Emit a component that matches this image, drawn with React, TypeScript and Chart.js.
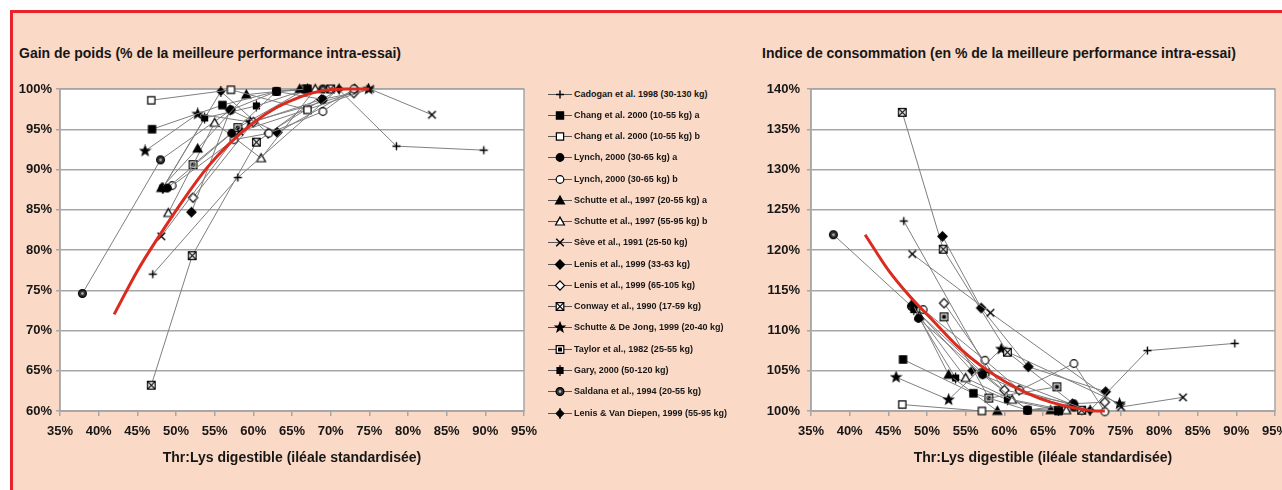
import React, { useEffect, useRef } from 'react';
import { Chart, registerables } from 'chart.js';

Chart.register(...registerables);

// ---------- DATA (Thr:Lys digestible, % ; responses in % of best intra-trial performance) ----------
const cadoganX = [47, 58, 71, 78.5, 89.8];
const cadoganGain = [77.0, 89.0, 100, 92.9, 92.4];
const cadoganIC = [123.6, 104.8, 100, 107.5, 108.4];

const changAX = [46.9, 56, 63, 67];
const changAGain = [95.0, 98.0, 99.7, 100];
const changAIC = [106.4, 102.2, 100.1, 100];

const changBX = [46.8, 57.1, 67];
const changBGain = [98.6, 99.9, 97.4];
const changBIC = [100.8, 100.0, 100.1];

const lynchAX = [48.9, 57.2, 63, 69];
const lynchAGain = [87.7, 94.5, 99.7, 98.7];
const lynchAIC = [111.5, 104.5, 100.1, 100.9];

const lynchBX = [49.5, 57.5, 62, 69, 73];
const lynchBGain = [88.0, 93.7, 94.5, 97.2, 100];
const lynchBIC = [112.6, 106.3, 102.6, 105.9, 99.9];

const schutteAX = [48.1, 52.8, 59.1, 66];
const schutteAGain = [87.7, 92.6, 99.3, 100];
const schutteAIC = [113.4, 104.5, 100.0, 100.1];

const schutteBX = [49, 55, 61, 68];
const schutteBGain = [84.6, 95.8, 91.4, 100];
const schutteBIC = [111.8, 104.1, 101.4, 100.1];

const seveX = [48.1, 58.2, 75.1, 83.1];
const seveGain = [81.7, 94.7, 100, 96.8];
const seveIC = [119.5, 112.2, 100.5, 101.7];

const lenisAX = [52, 57.0, 63.1, 73.1];
const lenisAGain = [84.7, 97.4, 94.6, 100];
const lenisAIC = [121.7, 112.8, 105.5, 102.4];

const lenisBX = [52.2, 60, 68.8, 73];
const lenisBGain = [86.5, 95.9, 98.7, 99.5];
const lenisBIC = [113.4, 102.6, 100.9, 101.1];

const conwayX = [46.8, 52.1, 60.4, 70];
const conwayGain = [63.2, 79.3, 93.4, 100];
const conwayIC = [137.1, 120.1, 107.3, 100.1];

const schutteDeJongX = [46, 52.8, 59.6, 74.9];
const schutteDeJongGain = [92.3, 96.9, 95.9, 100];
const schutteDeJongIC = [104.2, 101.4, 107.7, 100.9];

const taylorX = [52.2, 58, 66.8];
const taylorGain = [90.6, 95.2, 100];
const taylorIC = [111.7, 101.6, 103.0];

const garyX = [48.3, 53.7, 60.4, 67];
const garyGain = [87.7, 96.4, 97.9, 100];
const garyIC = [112.6, 104.1, 101.4, 100.1];

const saldanaX = [37.9, 48, 57.1, 63, 69];
const saldanaGain = [74.6, 91.2, 97.4, 99.7, 100];
const saldanaIC = [121.9, 113.0, 104.8, 100.1, 100.5];

const lenisVDX = [48.3, 55.8, 61.9, 71.1];
const lenisVDGain = [87.7, 99.7, 94.5, 100];
const lenisVDIC = [112.9, 105.0, 102.6, 100.1];

// Fitted response curves (red)
const fitGainX = [42, 45, 48, 51, 54, 57, 60, 63, 66, 69, 72, 75];
const fitGainY = [72.0, 77.4, 82.0, 86.3, 90.2, 93.3, 95.8, 97.7, 99.0, 99.8, 100, 100];
const fitIcX = [42, 45, 48, 51, 54, 57, 60, 63, 66, 69, 72, 73];
const fitIcY = [121.9, 117.5, 114.0, 111.0, 108.0, 105.6, 103.7, 102.2, 101.1, 100.4, 100.0, 100.0];

const studyNames = [
  'Cadogan et al. 1998 (30-130 kg)',
  'Chang et al. 2000 (10-55 kg) a',
  'Chang et al. 2000 (10-55 kg) b',
  'Lynch, 2000 (30-65 kg) a',
  'Lynch, 2000 (30-65 kg) b',
  'Schutte et al., 1997 (20-55 kg) a',
  'Schutte et al., 1997 (55-95 kg) b',
  'Sève et al., 1991 (25-50 kg)',
  'Lenis et al., 1999 (33-63 kg)',
  'Lenis et al., 1999 (65-105 kg)',
  'Conway et al., 1990 (17-59 kg)',
  'Schutte & De Jong, 1999 (20-40 kg)',
  'Taylor et al., 1982 (25-55 kg)',
  'Gary, 2000 (50-120 kg)',
  'Saldana et al., 1994 (20-55 kg)',
  'Lenis & Van Diepen, 1999 (55-95 kg)',
];
const studyX = [cadoganX, changAX, changBX, lynchAX, lynchBX, schutteAX, schutteBX, seveX, lenisAX, lenisBX, conwayX, schutteDeJongX, taylorX, garyX, saldanaX, lenisVDX];
const studyGain = [cadoganGain, changAGain, changBGain, lynchAGain, lynchBGain, schutteAGain, schutteBGain, seveGain, lenisAGain, lenisBGain, conwayGain, schutteDeJongGain, taylorGain, garyGain, saldanaGain, lenisVDGain];
const studyIC = [cadoganIC, changAIC, changBIC, lynchAIC, lynchBIC, schutteAIC, schutteBIC, seveIC, lenisAIC, lenisBIC, conwayIC, schutteDeJongIC, taylorIC, garyIC, saldanaIC, lenisVDIC];

// ---------- STYLE ----------
type Kind = 'plus' | 'sqF' | 'sqO' | 'ciF' | 'ciO' | 'trF' | 'trO' | 'x' | 'diF' | 'diO' | 'boxX' | 'star' | 'boxDot' | 'sqStem' | 'ciDot' | 'diStem';
const studyMarkers: Kind[] = ['plus', 'sqF', 'sqO', 'ciF', 'ciO', 'trF', 'trO', 'x', 'diF', 'diO', 'boxX', 'star', 'boxDot', 'sqStem', 'ciDot', 'diStem'];

const FONT = '"Liberation Sans", Arial, Helvetica, sans-serif';
const GRID = '#a6a6a6';
const LINE = '#7f7f7f';
const RED = '#dc2a1e';
const PEACH = '#fad9c6';
const TEXT = '#161616';

Chart.defaults.font.family = FONT;

function drawMarker(g: CanvasRenderingContext2D, kind: Kind, cx: number, cy: number) {
  g.save();
  g.lineWidth = 1.2;
  g.strokeStyle = '#000';
  g.fillStyle = '#000';
  const path = (pts: number[][]) => {
    g.beginPath();
    pts.forEach(([px, py], i) => (i ? g.lineTo(cx + px, cy + py) : g.moveTo(cx + px, cy + py)));
    g.closePath();
  };
  const fs = (fill: string) => {
    g.fillStyle = fill;
    g.fill();
    g.stroke();
  };
  const sq = (h: number) => path([[-h, -h], [h, -h], [h, h], [-h, h]]);
  const dia = (h: number) => path([[0, -h], [h, 0], [0, h], [-h, 0]]);
  const stem = () => {
    g.beginPath();
    g.moveTo(cx, cy - 5.5);
    g.lineTo(cx, cy + 5.5);
    g.stroke();
  };
  switch (kind) {
    case 'plus':
      g.lineWidth = 1.4;
      g.beginPath();
      g.moveTo(cx, cy - 4);
      g.lineTo(cx, cy + 4);
      g.moveTo(cx - 4, cy);
      g.lineTo(cx + 4, cy);
      g.stroke();
      break;
    case 'x':
      g.lineWidth = 1.4;
      g.beginPath();
      g.moveTo(cx - 3.8, cy - 3.8);
      g.lineTo(cx + 3.8, cy + 3.8);
      g.moveTo(cx + 3.8, cy - 3.8);
      g.lineTo(cx - 3.8, cy + 3.8);
      g.stroke();
      break;
    case 'sqF': sq(3.6); fs('#000'); break;
    case 'sqO': sq(3.6); fs('#fff'); break;
    case 'ciF': g.beginPath(); g.arc(cx, cy, 3.8, 0, Math.PI * 2); fs('#000'); break;
    case 'ciO': g.beginPath(); g.arc(cx, cy, 3.8, 0, Math.PI * 2); fs('#fff'); break;
    case 'trF': path([[0, -4.4], [4.4, 3.5], [-4.4, 3.5]]); fs('#000'); break;
    case 'trO': path([[0, -4.4], [4.4, 3.5], [-4.4, 3.5]]); fs('#fff'); break;
    case 'diF': dia(4.6); fs('#000'); break;
    case 'diO': dia(4.6); fs('#fff'); break;
    case 'boxX':
      sq(3.8); fs('#fff');
      g.beginPath();
      g.moveTo(cx - 3.8, cy - 3.8); g.lineTo(cx + 3.8, cy + 3.8);
      g.moveTo(cx + 3.8, cy - 3.8); g.lineTo(cx - 3.8, cy + 3.8);
      g.stroke();
      break;
    case 'star': {
      const pts: number[][] = [];
      for (let i = 0; i < 10; i++) {
        const rr = i % 2 === 0 ? 5 : 2.1;
        const a = -Math.PI / 2 + (i * Math.PI) / 5;
        pts.push([rr * Math.cos(a), rr * Math.sin(a)]);
      }
      path(pts); fs('#000');
      break;
    }
    case 'boxDot':
      sq(3.8); fs('#fff');
      g.fillStyle = '#000';
      g.fillRect(cx - 2, cy - 2, 4, 4);
      break;
    case 'sqStem': stem(); sq(3); fs('#000'); break;
    case 'ciDot':
      g.beginPath(); g.arc(cx, cy, 3.9, 0, Math.PI * 2); fs('#333');
      g.beginPath(); g.arc(cx, cy, 1.3, 0, Math.PI * 2); g.fillStyle = '#bbb'; g.fill();
      break;
    case 'diStem': stem(); dia(3.8); fs('#000'); break;
  }
  g.restore();
}

function markerCanvas(kind: Kind): HTMLCanvasElement {
  const c = document.createElement('canvas');
  c.width = 13;
  c.height = 13;
  drawMarker(c.getContext('2d')!, kind, 6.5, 6.5);
  return c;
}

const plotFrame = {
  id: 'plotFrame',
  beforeDraw(chart: any) {
    const { ctx, chartArea: a } = chart;
    ctx.save();
    ctx.fillStyle = '#fff';
    ctx.fillRect(a.left, a.top, a.right - a.left, a.bottom - a.top);
    ctx.restore();
  },
  beforeDatasetsDraw(chart: any) {
    const { ctx, chartArea: a } = chart;
    ctx.save();
    ctx.strokeStyle = GRID;
    ctx.lineWidth = 1.5;
    ctx.strokeRect(a.left, a.top, a.right - a.left, a.bottom - a.top);
    ctx.restore();
  },
};

function pts(xs: number[], ys: number[]) {
  return xs.map((x, i) => ({ x, y: ys[i] }));
}

function buildConfig(which: 'gain' | 'ic', markers: HTMLCanvasElement[], canvasW: number) {
  const isGain = which === 'gain';
  const tickFont = { family: FONT, size: 13, weight: 'bold' as const };
  const datasets: any[] = [
    {
      data: pts(isGain ? fitGainX : fitIcX, isGain ? fitGainY : fitIcY),
      showLine: true,
      borderColor: RED,
      borderWidth: 3,
      pointRadius: 0,
      cubicInterpolationMode: 'monotone',
      clip: false,
    },
    ...studyNames.map((_, i) => ({
      data: pts(studyX[i], isGain ? studyGain[i] : studyIC[i]),
      showLine: true,
      borderColor: LINE,
      borderWidth: 1,
      pointStyle: markers[i],
      pointRadius: 4,
      clip: false,
    })),
  ];
  const yAxisW = isGain ? 60 : 71;
  const plotRight = isGain ? 525 : 535;
  return {
    type: 'scatter' as const,
    data: { datasets },
    plugins: [plotFrame],
    options: {
      animation: false,
      responsive: false,
      devicePixelRatio: 1,
      events: [],
      layout: { padding: { top: 29, right: canvasW - plotRight, left: 0, bottom: 0 } },
      plugins: { legend: { display: false }, tooltip: { enabled: false }, title: { display: false } },
      scales: {
        x: {
          type: 'linear',
          min: 35,
          max: 95,
          afterFit: (s: any) => { s.height = 79; },
          ticks: { stepSize: 5, autoSkip: false, maxRotation: 0, padding: 8, color: TEXT, font: tickFont, callback: (v: any) => v + '%' },
          grid: { drawOnChartArea: false, color: GRID, tickLength: 5, lineWidth: 1.5 },
          border: { color: GRID, width: 1.5 },
          title: {
            display: true,
            text: 'Thr:Lys digestible (iléale standardisée)',
            color: TEXT,
            font: { family: FONT, size: 14, weight: 'bold' },
            padding: { top: 0, bottom: 23 },
          },
        },
        y: {
          type: 'linear',
          min: isGain ? 60 : 100,
          max: isGain ? 100 : 140,
          afterFit: (s: any) => { s.width = yAxisW; },
          ticks: { stepSize: 5, padding: isGain ? 4 : 7, color: TEXT, font: tickFont, callback: (v: any) => v + '%' },
          grid: { color: GRID, tickLength: 4, lineWidth: 1.5 },
          border: { color: GRID, width: 1.5 },
        },
      },
    },
  };
}

function LegendIcon({ kind }: { kind: Kind }) {
  const ref = useRef<HTMLCanvasElement>(null);
  useEffect(() => {
    const c = ref.current!;
    const g = c.getContext('2d')!;
    g.clearRect(0, 0, c.width, c.height);
    g.strokeStyle = '#555';
    g.lineWidth = 1;
    g.beginPath();
    g.moveTo(0, 6.5);
    g.lineTo(24, 6.5);
    g.stroke();
    drawMarker(g, kind, 12, 6.5);
  }, [kind]);
  return <canvas ref={ref} width={24} height={13} style={{ display: 'block' }} />;
}

const titleStyle: React.CSSProperties = {
  position: 'absolute',
  font: `bold 14px ${FONT}`,
  color: TEXT,
  whiteSpace: 'nowrap',
  lineHeight: '16px',
  top: 45,
};

export default function App() {
  const gainRef = useRef<HTMLCanvasElement>(null);
  const icRef = useRef<HTMLCanvasElement>(null);

  useEffect(() => {
    const markers = studyMarkers.map((k) => markerCanvas(k));
    const c1 = new Chart(gainRef.current!, buildConfig('gain', markers, 545) as any);
    const c2 = new Chart(icRef.current!, buildConfig('ic', markers, 570) as any);
    return () => {
      c1.destroy();
      c2.destroy();
    };
  }, []);

  return (
    <>
      <div
        style={{
          position: 'absolute',
          left: 10,
          top: 10,
          width: 1272,
          height: 480,
          boxSizing: 'border-box',
          background: PEACH,
          borderLeft: '3px solid #e8232b',
          borderTop: '3px solid #e8232b',
        }}
      />
      <div style={{ ...titleStyle, left: 19 }}>Gain de poids (% de la meilleure performance intra-essai)</div>
      <div style={{ ...titleStyle, left: 762 }}>Indice de consommation (en % de la meilleure performance intra-essai)</div>
      <canvas ref={gainRef} width={545} height={430} style={{ position: 'absolute', left: 0, top: 60 }} />
      <div style={{ position: 'absolute', left: 740, top: 60, width: 542, height: 430, overflow: 'hidden' }}>
        <canvas ref={icRef} width={570} height={430} style={{ position: 'absolute', left: 0, top: 0 }} />
      </div>
      {studyNames.map((name, i) => {
        const cy = 94 + i * 21.27;
        return (
          <div key={name} style={{ position: 'absolute', left: 548, top: Math.round(cy - 6.5), height: 13, display: 'flex', alignItems: 'center' }}>
            <LegendIcon kind={studyMarkers[i]} />
            <span style={{ marginLeft: 2, font: `bold 9px ${FONT}`, color: TEXT, whiteSpace: 'nowrap', lineHeight: '13px' }}>{name}</span>
          </div>
        );
      })}
    </>
  );
}
